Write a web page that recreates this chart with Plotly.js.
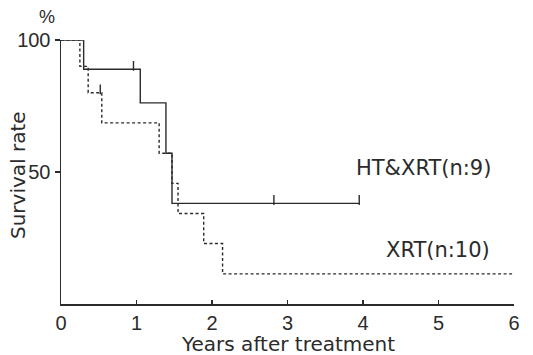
<!DOCTYPE html>
<html>
<head>
<meta charset="utf-8">
<script src="https://cdn.plot.ly/plotly-3.0.1.min.js"></script>
<style>html,body{margin:0;padding:0;background:#fff;}#chart{width:533px;height:355px;}</style>
</head>
<body>
<div id="chart"></div>
<script>
// HT&XRT (n:9) – solid step curve
var htTimes = [0, 0.30, 1.05, 1.39, 1.47, 3.95];
var htSurv  = [100, 88.9, 76.2, 57.1, 38.1, 38.1];
var htCensorTimes = [0.96, 2.82, 3.95];
var htCensorSurv  = [88.9, 38.1, 38.1];

// XRT (n:10) – dashed step curve
var xrtTimes = [0, 0.25, 0.36, 0.54, 1.30, 1.47, 1.55, 1.89, 2.14, 6.0];
var xrtSurv  = [100, 90, 80, 68.6, 57.1, 45.7, 34.3, 22.9, 11.4, 11.4];
var xrtCensorTimes = [0.52];
var xrtCensorSurv  = [80];

var xTickVals = [0, 1, 2, 3, 4, 5, 6];
var yTickVals = [50, 100];
var yTickText = ['50', '100'];

var ink = '#2b2b2b';
var fontFam = 'Liberation Sans, Arial, sans-serif';
var wideFam = 'DejaVu Sans, Liberation Sans, sans-serif';

function lift(arr){ return arr.map(function(v){ return v + 1.3; }); }

var traces = [
  {x: xrtTimes, y: xrtSurv, mode: 'lines', line: {shape: 'hv', color: ink, width: 1.4, dash: '3px,2.5px'}, hoverinfo: 'skip', cliponaxis: false},
  {x: htTimes, y: htSurv, mode: 'lines', line: {shape: 'hv', color: ink, width: 1.4}, hoverinfo: 'skip', cliponaxis: false},
  {x: htCensorTimes, y: lift(htCensorSurv), mode: 'markers', marker: {symbol: 'line-ns', size: 7, line: {color: ink, width: 1.4}}, hoverinfo: 'skip', cliponaxis: false},
  {x: xrtCensorTimes, y: lift(xrtCensorSurv), mode: 'markers', marker: {symbol: 'line-ns', size: 7, line: {color: ink, width: 1.4}}, hoverinfo: 'skip', cliponaxis: false}
];

var layout = {
  width: 533, height: 355,
  margin: {l: 61, r: 19, t: 40, b: 51},
  paper_bgcolor: '#fff', plot_bgcolor: '#fff',
  showlegend: false,
  font: {family: fontFam, color: ink},
  xaxis: {
    range: [0, 6], tickvals: xTickVals, ticks: 'inside', ticklen: 4, tickwidth: 1.4, tickcolor: ink,
    showline: true, linecolor: ink, linewidth: 1.5, showgrid: false, zeroline: false,
    tickfont: {size: 20, family: fontFam, color: ink}
  },
  yaxis: {
    range: [0, 100], tickvals: yTickVals, ticktext: yTickText, ticks: 'outside', ticklen: 5, tickwidth: 1.4, tickcolor: ink,
    showline: true, linecolor: ink, linewidth: 1.5, showgrid: false, zeroline: false,
    tickfont: {size: 20, family: fontFam, color: ink}
  },
  annotations: [
    {text: 'Years after treatment', xref: 'paper', yref: 'paper', x: 0.5, y: 0, yanchor: 'middle', yshift: -40, showarrow: false, font: {size: 20, family: wideFam, color: ink}},
    {text: 'Survival rate', xref: 'paper', yref: 'paper', x: 0, y: 0.5, xanchor: 'center', yanchor: 'middle', xshift: -43, yshift: -3, textangle: -90, showarrow: false, font: {size: 20, family: wideFam, color: ink}},
    {text: '%', xref: 'paper', yref: 'paper', x: -0.052, y: 1.0, yanchor: 'middle', yshift: 23, showarrow: false, font: {size: 18, family: fontFam, color: ink}},
    {text: 'HT&XRT(n:9)', xref: 'x', yref: 'y', x: 5.72, y: 51.5, xanchor: 'right', showarrow: false, font: {size: 21, family: wideFam, color: ink}},
    {text: 'XRT(n:10)', xref: 'x', yref: 'y', x: 5.71, y: 20.5, xanchor: 'right', showarrow: false, font: {size: 21, family: wideFam, color: ink}}
  ]
};

Plotly.newPlot('chart', traces, layout, {staticPlot: true, displayModeBar: false});
</script>
</body>
</html>
